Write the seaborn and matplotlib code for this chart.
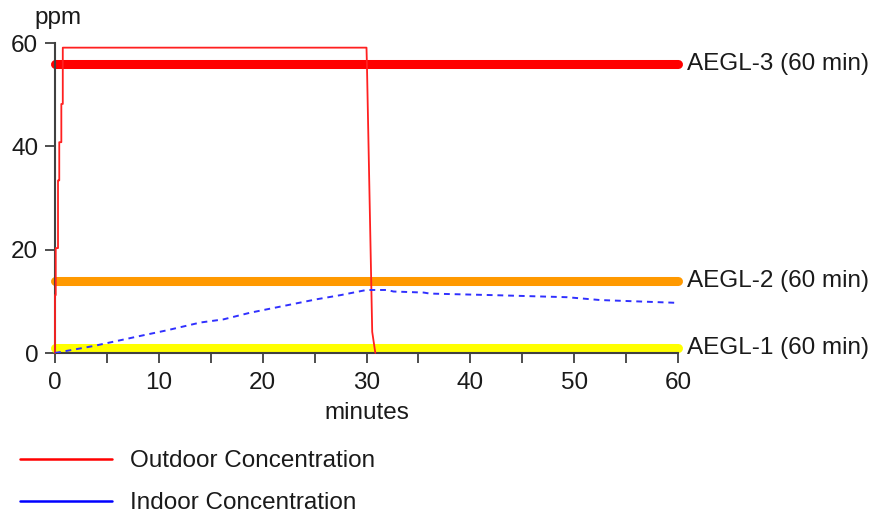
import matplotlib
matplotlib.use("Agg")
import matplotlib.pyplot as plt
import seaborn as sns
import pandas as pd
from matplotlib.lines import Line2D

# ---- data ----
outdoor_t = [0, 0, 0.07, 0.07, 0.29, 0.29, 0.41, 0.41, 0.61, 0.61, 0.75, 0.75, 30.0, 30.05, 30.55, 30.85]
outdoor_v = [0, 11.2, 11.2, 20.3, 20.3, 33.4, 33.4, 40.8, 40.8, 48.2, 48.2, 59.1, 59.1, 55.0, 4.1, 0]

indoor_t = [0, 3.7, 5.9, 8.2, 10.8, 14.0, 16.2, 18.8, 22.0, 25.2, 27.5, 30.0, 32.0, 32.6, 35.5, 36.1, 42.2, 49.3, 52.5, 60.0]
indoor_v = [0, 1.35, 2.3, 3.3, 4.4, 5.9, 6.5, 7.8, 9.1, 10.4, 11.2, 12.2, 12.2, 11.9, 11.7, 11.5, 11.2, 10.8, 10.25, 9.7]

aegl_names = ["AEGL-3 (60 min)", "AEGL-2 (60 min)", "AEGL-1 (60 min)"]
aegl_values = [56, 14, 0.9]
aegl_colors = ["#ff0000", "#ff9900", "#ffff00"]

x_ticks = [0, 10, 20, 30, 40, 50, 60]
y_ticks = [0, 20, 40, 60]

sns.set_style("ticks")
plt.rcParams["font.family"] = ["Liberation Sans", "DejaVu Sans"]
FS = 17.5
TXT = "#1a1a1a"

fig = plt.figure(figsize=(8.73, 5.13), dpi=100)
ax = fig.add_axes([55 / 873, 1 - 353 / 513, (678 - 55) / 873, (353 - 43) / 513])

# AEGL threshold lines
for name, val, col in zip(aegl_names, aegl_values, aegl_colors):
    df = pd.DataFrame({"t": [0, 60], "v": [val, val]})
    sns.lineplot(data=df, x="t", y="v", ax=ax, color=col, linewidth=6.5,
                 solid_capstyle="round", clip_on=False, zorder=2)
    ax.annotate(name, xy=(60, val), xytext=(6.5, 0), textcoords="offset points",
                ha="left", va="center", fontsize=FS, color=TXT, annotation_clip=False)

# Outdoor
df_out = pd.DataFrame({"t": outdoor_t, "v": outdoor_v})
sns.lineplot(data=df_out, x="t", y="v", ax=ax, sort=False, estimator=None,
             color="#ff2020", linewidth=1.3, clip_on=False, zorder=3)

# Indoor
df_in = pd.DataFrame({"t": indoor_t, "v": indoor_v})
sns.lineplot(data=df_in, x="t", y="v", ax=ax, sort=False, estimator=None,
             color="#3030ff", linewidth=1.4, linestyle=(0, (3, 2.5)), zorder=4)

ax.set_xlim(0, 60)
ax.set_ylim(0, 60)
ax.set_xticks(x_ticks)
ax.set_xticks([5, 15, 25, 35, 45, 55], minor=True)
ax.set_yticks(y_ticks)
ax.tick_params(axis="both", which="both", direction="out", length=7, width=1.3,
               color="#404040", labelsize=FS, labelcolor=TXT, pad=5)
ax.tick_params(axis="x", which="major", pad=7)
ax.set_xlabel("")
ax.set_ylabel("")
for s in ["top", "right"]:
    ax.spines[s].set_visible(False)
for s in ["left", "bottom"]:
    ax.spines[s].set_color("#404040")
    ax.spines[s].set_linewidth(1.5)
ax.set_facecolor("white")

fig.text(58 / 873, 1 - 18 / 513, "ppm", ha="center", va="center", fontsize=FS, color=TXT)
fig.text(367 / 873, 1 - 413 / 513, "minutes", ha="center", va="center", fontsize=FS, color=TXT)

handles = [Line2D([], [], color="#ff0000", linewidth=1.8),
           Line2D([], [], color="#0000ff", linewidth=1.8)]
fig.legend(handles, ["Outdoor Concentration", "Indoor Concentration"],
           loc="upper left", bbox_to_anchor=(20 / 873, 1 - 450 / 513),
           frameon=False, fontsize=FS, handlelength=3.8, handletextpad=0.72,
           labelspacing=0.84, borderpad=0, borderaxespad=0, labelcolor=TXT)

fig.savefig("out.png", dpi=100)
